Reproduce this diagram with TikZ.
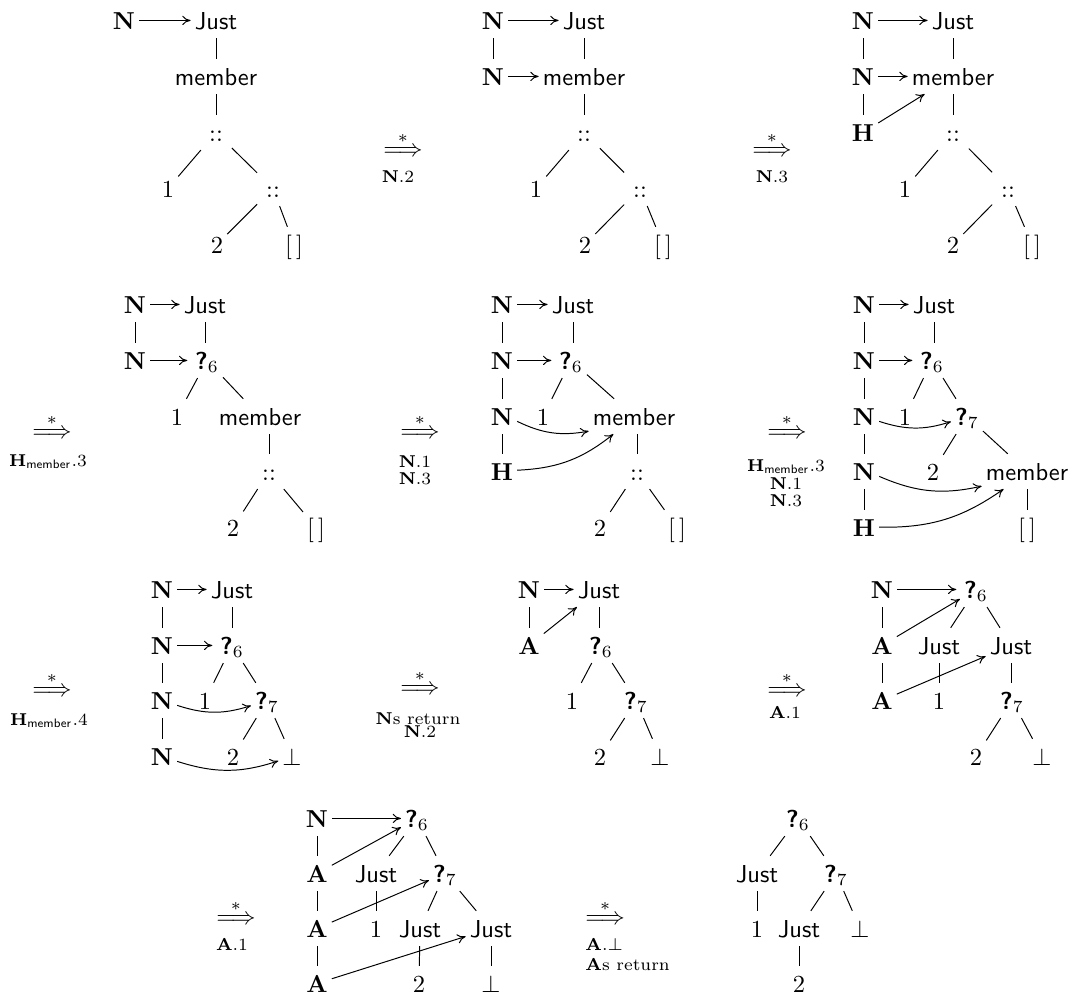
\documentclass[tikz,border=0pt]{standalone}
\usetikzlibrary{arrows.meta}
\newcommand\myN{\textbf{N}}
\newcommand\myH{\textbf{H}}
\newcommand\myA{\textbf{A}}
\newcommand\myJ{\textsf{Just}}
\newcommand\myM{\textsf{member}}
\newcommand\myQ[1]{\textsf{\textbf{?}}$_{#1}$}
\newcommand\myC{::}
\newcommand\myE{$[\,]$}
\newcommand\myB{$\bot$}
\newcommand\myR{$\stackrel{*}{\Longrightarrow}$}
\begin{document}
\begin{tikzpicture}[x=0.40816pt,y=0.40816pt,
  tn/.style={anchor=base, inner xsep=1.5pt, inner ysep=3.5pt, text height=7pt, text depth=0pt},
  cc/.style={tn, inner xsep=3.5pt},
  ar/.style={-{To[length=3.4pt,width=3.8pt]}, line width=0.4pt},
  aq/.style={ar, shorten >=1.5pt},
  cv/.style={ar, bend right=18},
  rw/.style={anchor=base, inner sep=0pt},
  lb/.style={anchor=base, inner sep=0pt, font=\scriptsize},
  every path/.style={line width=0.4pt}]
\useasboundingbox (0,0) rectangle (1072,-996);

% ---------- diagram 1 ----------
\node[tn] (aN) at (124,-29) {\myN};
\node[tn] (aJ) at (216,-29) {\myJ};
\node[tn] (am) at (216,-85) {\myM};
\node[cc] (ac) at (216,-141) {\myC};
\node[tn] (a1) at (168,-197) {$1$};
\node[cc] (ac2) at (273,-197) {\myC};
\node[tn] (a2) at (217,-253) {$2$};
\node[tn] (ae) at (294,-253) {\myE};
\draw[ar] (aN) -- (aJ);
\draw (aJ) -- (am);
\draw (am) -- (ac);
\draw (ac) -- (a1);
\draw (ac) -- (ac2);
\draw (ac2) -- (a2);
\draw (ac2) -- (ae);

\node[rw] (s1) at (403,-156) {\myR};
\node[lb] (l1) at (398,-182) {\textbf{N}.2};

% ---------- diagram 2 ----------
\node[tn] (bN1) at (493,-29) {\myN};
\node[tn] (bJ) at (584,-29) {\myJ};
\node[tn] (bN2) at (493,-85) {\myN};
\node[tn] (bm) at (584,-85) {\myM};
\node[cc] (bc) at (584,-141) {\myC};
\node[tn] (b1) at (536,-197) {$1$};
\node[cc] (bc2) at (640,-197) {\myC};
\node[tn] (b2) at (585,-253) {$2$};
\node[tn] (be) at (663,-253) {\myE};
\draw[ar] (bN1) -- (bJ);
\draw[ar] (bN2) -- (bm);
\draw (bN1) -- (bN2);
\draw (bJ) -- (bm);
\draw (bm) -- (bc);
\draw (bc) -- (b1);
\draw (bc) -- (bc2);
\draw (bc2) -- (b2);
\draw (bc2) -- (be);

\node[rw] (s2) at (772,-156) {\myR};
\node[lb] (l2) at (772,-182) {\textbf{N}.3};

% ---------- diagram 3 ----------
\node[tn] (cN1) at (863,-29) {\myN};
\node[tn] (cJ) at (953,-29) {\myJ};
\node[tn] (cN2) at (863,-85) {\myN};
\node[tn] (cm) at (953,-85) {\myM};
\node[tn] (cH) at (863,-141) {\myH};
\node[cc] (cc) at (953,-141) {\myC};
\node[tn] (c1) at (905,-197) {$1$};
\node[cc] (cc2) at (1008,-197) {\myC};
\node[tn] (c2) at (953,-253) {$2$};
\node[tn] (ce) at (1032,-253) {\myE};
\draw[ar] (cN1) -- (cJ);
\draw[ar] (cN2) -- (cm);
\draw[ar] (cH) -- (cm);
\draw (cN1) -- (cN2);
\draw (cN2) -- (cH);
\draw (cJ) -- (cm);
\draw (cm) -- (cc);
\draw (cc) -- (c1);
\draw (cc) -- (cc2);
\draw (cc2) -- (c2);
\draw (cc2) -- (ce);

% ---------- row 2 ----------
\node[rw] (s3) at (52,-438) {\myR};
\node[lb] (l3) at (48,-466) {\textbf{H}$_{\mathsf{member}}$.3};

% diagram 4
\node[tn] (dN1) at (135,-313) {\myN};
\node[tn] (dJ) at (205,-313) {\myJ};
\node[tn] (dN2) at (135,-369) {\myN};
\node[tn] (d6) at (207,-369) {\myQ{6}};
\node[tn] (d1) at (177,-425) {$1$};
\node[tn] (dm) at (260,-425) {\myM};
\node[cc] (dc) at (269,-480) {\myC};
\node[tn] (d2) at (233,-536) {$2$};
\node[tn] (de) at (316,-536) {\myE};
\draw[ar] (dN1) -- (dJ);
\draw[aq] (dN2) -- (d6);
\draw (dN1) -- (dN2);
\draw (dJ) -- (dJ |- d6.north);
\draw (d6) -- (d1);
\draw (d6) -- (dm);
\draw (dc |- dm.south) -- (dc);
\draw (dc) -- (d2);
\draw (dc) -- (de);

\node[rw] (s4) at (420,-438) {\myR};
\node[lb] (l4a) at (415,-467) {\textbf{N}.1};
\node[lb] (l4b) at (415,-484) {\textbf{N}.3};

% diagram 5
\node[tn] (eN1) at (502,-313) {\myN};
\node[tn] (eJ) at (573,-313) {\myJ};
\node[tn] (eN2) at (502,-369) {\myN};
\node[tn] (e6) at (571,-369) {\myQ{6}};
\node[tn] (eN3) at (502,-425) {\myN};
\node[tn] (e1) at (543,-425) {$1$};
\node[tn] (em) at (634,-425) {\myM};
\node[tn] (eH) at (502,-480) {\myH};
\node[cc] (ec) at (637,-480) {\myC};
\node[tn] (e2) at (600,-536) {$2$};
\node[tn] (ee) at (677,-536) {\myE};
\draw[ar] (eN1) -- (eJ);
\draw[aq] (eN2) -- (e6);
\draw (eN1) -- (eN2);
\draw (eN2) -- (eN3);
\draw (eN3) -- (eH);
\draw (eJ) -- (eJ |- e6.north);
\draw (e6) -- (e1);
\draw (e6) -- (em);
\draw (ec |- em.south) -- (ec);
\draw (ec) -- (e2);
\draw (ec) -- (ee);
\draw[cv] (eN3) to (em);
\draw[cv] (eH) to (em);

\node[rw] (s5) at (787,-438) {\myR};
\node[lb] (l5a) at (786,-471) {\textbf{H}$_{\mathsf{member}}$.3};
\node[lb] (l5b) at (786,-489) {\textbf{N}.1};
\node[lb] (l5c) at (786,-506) {\textbf{N}.3};

% diagram 6
\node[tn] (fN1) at (864,-313) {\myN};
\node[tn] (fJ) at (934,-313) {\myJ};
\node[tn] (fN2) at (864,-369) {\myN};
\node[tn] (f6) at (932,-369) {\myQ{6}};
\node[tn] (fN3) at (864,-425) {\myN};
\node[tn] (f1) at (905,-425) {$1$};
\node[tn] (f7) at (967,-425) {\myQ{7}};
\node[tn] (fN4) at (864,-480) {\myN};
\node[tn] (f2) at (933,-480) {$2$};
\node[tn] (fm) at (1027,-480) {\myM};
\node[tn] (fH) at (864,-536) {\myH};
\node[tn] (fe) at (1027,-536) {\myE};
\draw[ar] (fN1) -- (fJ);
\draw[aq] (fN2) -- (f6);
\draw (fN1) -- (fN2);
\draw (fN2) -- (fN3);
\draw (fN3) -- (fN4);
\draw (fN4) -- (fH);
\draw (fJ) -- (fJ |- f6.north);
\draw (f6) -- (f1);
\draw (f6) -- (f7);
\draw (f7) -- (f2);
\draw (f7) -- (fm);
\draw (fm) -- (fe);
\draw[cv] (fN3) to (f7);
\draw[cv] (fN4) to (fm);
\draw[cv] (fH) to (fm);

% ---------- row 3 ----------
\node[rw] (s6) at (52,-696) {\myR};
\node[lb] (l6) at (49,-725) {\textbf{H}$_{\mathsf{member}}$.4};

% diagram 7
\node[tn] (gN1) at (162,-598) {\myN};
\node[tn] (gJ) at (232,-598) {\myJ};
\node[tn] (gN2) at (162,-654) {\myN};
\node[tn] (g6) at (232,-654) {\myQ{6}};
\node[tn] (gN3) at (162,-709) {\myN};
\node[tn] (g1) at (205,-709) {$1$};
\node[tn] (g7) at (267,-709) {\myQ{7}};
\node[tn] (gN4) at (162,-765) {\myN};
\node[tn] (g2) at (233,-765) {$2$};
\node[tn] (gb) at (292,-765) {\myB};
\draw[ar] (gN1) -- (gJ);
\draw[aq] (gN2) -- (g6);
\draw (gN1) -- (gN2);
\draw (gN2) -- (gN3);
\draw (gN3) -- (gN4);
\draw (gJ) -- (gJ |- g6.north);
\draw (g6) -- (g1);
\draw (g6) -- (g7);
\draw (g7) -- (g2);
\draw (g7) -- (gb);
\draw[cv] (gN3) to (g7);
\draw[cv] (gN4) to (gb);

\node[rw] (s7) at (420,-694) {\myR};
\node[lb] (l7a) at (418,-724) {\textbf{N}s return};
\node[lb] (l7b) at (420,-737) {\textbf{N}.2};

% diagram 8
\node[tn] (hN) at (529,-598) {\myN};
\node[tn] (hJ) at (599,-598) {\myJ};
\node[tn] (hA) at (529,-654) {\myA};
\node[tn] (h6) at (601,-654) {\myQ{6}};
\node[tn] (h1) at (572,-709) {$1$};
\node[tn] (h7) at (636,-709) {\myQ{7}};
\node[tn] (h2) at (600,-765) {$2$};
\node[tn] (hb) at (660,-765) {\myB};
\draw[ar] (hN) -- (hJ);
\draw (hN) -- (hA);
\draw[ar] (hA) -- (hJ);
\draw (hJ) -- (hJ |- h6.north);
\draw (h6) -- (h1);
\draw (h6) -- (h7);
\draw (h7) -- (h2);
\draw (h7) -- (hb);

\node[rw] (s8) at (787,-696) {\myR};
\node[lb] (l8) at (785,-718) {\textbf{A}.1};

% diagram 9
\node[tn] (iN) at (882,-598) {\myN};
\node[tn] (i6) at (976,-598) {\myQ{6}};
\node[tn] (iA1) at (882,-654) {\myA};
\node[tn] (iJ1) at (939,-654) {\myJ};
\node[tn] (iJ2) at (1011,-654) {\myJ};
\node[tn] (iA2) at (882,-709) {\myA};
\node[tn] (i1) at (939,-709) {$1$};
\node[tn] (i7) at (1012,-709) {\myQ{7}};
\node[tn] (i2) at (976,-765) {$2$};
\node[tn] (ib) at (1042,-765) {\myB};
\draw[aq] (iN) -- (i6);
\draw (iN) -- (iA1);
\draw (iA1) -- (iA2);
\draw[ar] (iA1) -- (i6);
\draw (i6) -- (iJ1);
\draw (i6) -- (iJ2);
\draw (iJ1) -- (i1);
\draw (iJ2) -- (iJ2 |- i7.north);
\draw (i7) -- (i2);
\draw (i7) -- (ib);
\draw[ar] (iA2) -- (iJ2);

% ---------- row 4 ----------
\node[rw] (s9) at (236,-924) {\myR};
\node[lb] (l9) at (232,-950) {\textbf{A}.1};

% diagram 10
\node[tn] (jN) at (317,-827) {\myN};
\node[tn] (j6) at (417,-827) {\myQ{6}};
\node[tn] (jA1) at (317,-882) {\myA};
\node[tn] (jJ1) at (376,-882) {\myJ};
\node[tn] (j7) at (445,-882) {\myQ{7}};
\node[tn] (jA2) at (317,-937) {\myA};
\node[tn] (j1) at (376,-937) {$1$};
\node[tn] (jJ2) at (420,-937) {\myJ};
\node[tn] (jJ3) at (491,-937) {\myJ};
\node[tn] (jA3) at (317,-992) {\myA};
\node[tn] (j2) at (419,-992) {$2$};
\node[tn] (jb) at (491,-992) {\myB};
\draw[ar] (jN) -- (j6);
\draw (jN) -- (jA1);
\draw (jA1) -- (jA2);
\draw (jA2) -- (jA3);
\draw (j6) -- (jJ1);
\draw (j6) -- (j7);
\draw (jJ1) -- (j1);
\draw (j7) -- (jJ2);
\draw (j7) -- (jJ3);
\draw (jJ2) -- (j2);
\draw (jJ3) -- (jb);
\draw[ar] (jA1) -- (j6);
\draw[ar] (jA2) -- (j7);
\draw[ar] (jA3) -- (jJ3);

\node[rw, anchor=base west] (s10) at (585,-924) {\myR};
\node[lb, anchor=base west] (l10a) at (585,-950) {\textbf{A}.$\bot$};
\node[lb, anchor=base west] (l10b) at (585,-970) {\textbf{A}s return};

% diagram 11
\node[tn] (k6) at (798,-827) {\myQ{6}};
\node[tn] (kJ1) at (757,-882) {\myJ};
\node[tn] (k7) at (836,-882) {\myQ{7}};
\node[tn] (k1) at (757,-937) {$1$};
\node[tn] (kJ2) at (799,-937) {\myJ};
\node[tn] (kb) at (860,-937) {\myB};
\node[tn] (k2) at (799,-992) {$2$};
\draw (k6) -- (kJ1);
\draw (k6) -- (k7);
\draw (kJ1) -- (k1);
\draw (k7) -- (kJ2);
\draw (k7) -- (kb);
\draw (kJ2) -- (k2);
\end{tikzpicture}
\end{document}
